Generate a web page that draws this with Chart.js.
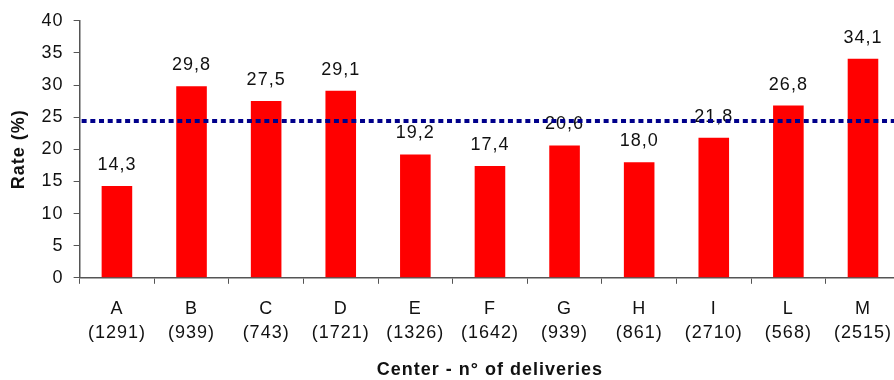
<!DOCTYPE html>
<html>
<head>
<meta charset="utf-8">
<script src="https://cdn.jsdelivr.net/npm/chart.js@4/dist/chart.umd.min.js"></script>
<style>
	html, body { margin: 0; padding: 0; background: #fff; overflow: hidden; }
	#wrap { width: 905px; height: 380px; }
</style>
</head>
<body>
<div id="wrap"><canvas id="rateChart"></canvas></div>
<script>
const centers = ["A", "B", "C", "D", "E", "F", "G", "H", "I", "L", "M"];
const deliveries = [1291, 939, 743, 1721, 1326, 1642, 939, 861, 2710, 568, 2515];
const rates = [14.3, 29.8, 27.5, 29.1, 19.2, 17.4, 20.6, 18.0, 21.8, 26.8, 34.1];
const overallRate = 24.4;

const font = "'Liberation Sans', Arial, sans-serif";

// the source text is a little wider than plain Arial;
// resizing the canvas resets the context, so set it again each time
const spacing = {
	id: "spacing",
	beforeUpdate(chart) {
		chart.ctx.letterSpacing = "1px";
	},
	beforeDraw(chart) {
		chart.ctx.letterSpacing = "1px";
	},
};

const barLabels = {
	id: "barLabels",
	afterDatasetsDraw(chart) {
		const ctx = chart.ctx;
		const meta = chart.getDatasetMeta(0);
		ctx.save();
		ctx.font = "18px " + font;
		ctx.fillStyle = "#111";
		ctx.textAlign = "center";
		ctx.textBaseline = "alphabetic";
		meta.data.forEach((bar, i) => {
			ctx.fillText(rates[i].toFixed(1).replace(".", ","), bar.x, bar.y - 16);
		});
		ctx.restore();
	},
};

const meanLine = {
	id: "meanLine",
	afterDatasetsDraw(chart) {
		const ctx = chart.ctx;
		const area = chart.chartArea;
		const y = chart.scales.y.getPixelForValue(overallRate);
		ctx.save();
		ctx.strokeStyle = "#00008b";
		ctx.lineWidth = 4;
		ctx.setLineDash([5, 3.7]);
		ctx.beginPath();
		ctx.moveTo(area.left + 2, y);
		ctx.lineTo(area.right, y);
		ctx.stroke();
		ctx.restore();
	},
};

const rateChart = document.getElementById("rateChart");
if (rateChart) {
	new Chart(rateChart, {
		type: "bar",
		data: {
			labels: centers.map((c, i) => [c, "(" + deliveries[i] + ")"]),
			datasets: [
				{
					data: rates,
					backgroundColor: "#ff0000",
					barPercentage: 0.41,
					categoryPercentage: 1,
				},
			],
		},
		options: {
			responsive: true,
			maintainAspectRatio: false,
			animation: false,
			layout: { padding: { top: 18, right: 0, left: 4, bottom: -5 } },
			plugins: {
				legend: { display: false },
				tooltip: { enabled: false },
			},
			scales: {
				x: {
					grid: {
						display: true,
						drawOnChartArea: false,
						drawTicks: true,
						tickLength: 6,
						color: "#555",
					},
					border: { display: true, color: "#555", width: 1.5 },
					ticks: {
						color: "#111",
						font: { family: font, size: 18, lineHeight: 1.35 },
						padding: 13,
						maxRotation: 0,
					},
					title: {
						display: true,
						text: "Center - n° of deliveries",
						color: "#111",
						font: { family: font, size: 18, weight: "bold" },
						padding: { top: 1 },
					},
				},
				y: {
					min: 0,
					max: 40,
					grid: {
						display: true,
						drawOnChartArea: false,
						drawTicks: true,
						tickLength: 6,
						color: "#555",
					},
					border: { display: true, color: "#555", width: 1.5 },
					ticks: {
						stepSize: 5,
						color: "#111",
						font: { family: font, size: 18 },
						padding: 10,
					},
					title: {
						display: true,
						text: "Rate (%)",
						color: "#111",
						font: { family: font, size: 18, weight: "bold" },
						padding: { bottom: 2 },
					},
				},
			},
		},
		plugins: [spacing, barLabels, meanLine],
	});
}
</script>
</body>
</html>
